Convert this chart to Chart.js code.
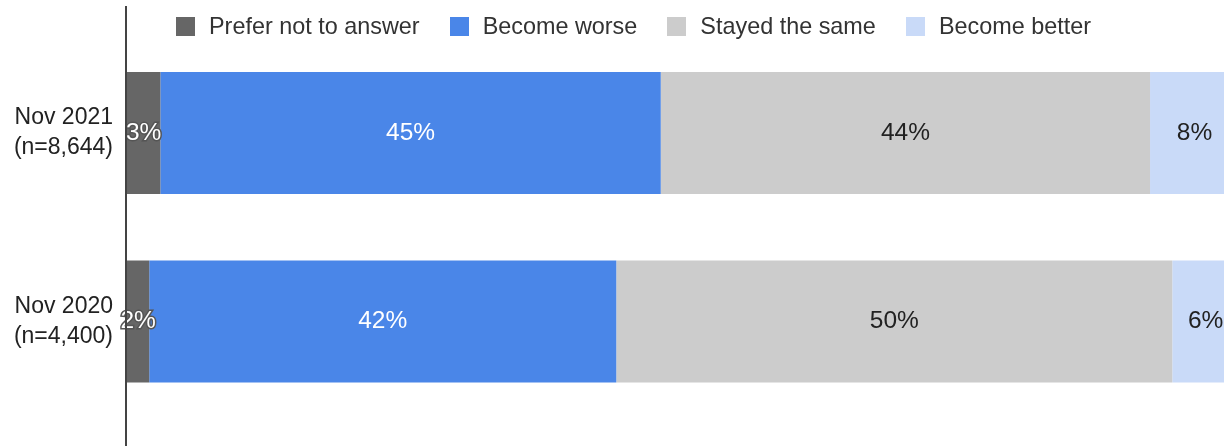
<!DOCTYPE html>
<html>
<head>
<meta charset="utf-8">
<script src="https://cdn.jsdelivr.net/npm/chart.js@4"></script>
<style>
html, body { margin: 0; padding: 0; background: #fff; overflow: hidden; }
#wrap { position: relative; width: 1240px; height: 446px; }
#legend { position: absolute; left: 176px; top: 13px; display: flex; align-items: center;
  font: 23.4px "Liberation Sans", Arial, sans-serif; line-height: 26px; color: #333; }
.item { display: flex; align-items: center; margin-right: 30px; }
.box { width: 19px; height: 19px; margin-right: 14px; }
</style>
</head>
<body>
<div id="wrap">
  <canvas id="barChart" width="1240" height="446"></canvas>
  <div id="legend"></div>
</div>
<script>
var categories = [["Nov 2021", "(n=8,644)"], ["Nov 2020", "(n=4,400)"]];
var seriesNames = ["Prefer not to answer", "Become worse", "Stayed the same", "Become better"];
var preferNot = [3, 2];
var becomeWorse = [45, 42];
var stayedSame = [44, 50];
var becomeBetter = [8, 6];

var colors = ['#666666', '#4a86e8', '#cccccc', '#c9daf8'];
var labelColors = ['#ffffff', '#ffffff', '#222222', '#222222'];
var fontFamily = '"Liberation Sans", Arial, sans-serif';

// vertical axis line running the full height
var axisLine = {
  id: 'axisLine',
  afterDraw: function(chart) {
    var ctx = chart.ctx;
    var x = chart.chartArea.left - 1;
    ctx.save();
    ctx.strokeStyle = '#444';
    ctx.lineWidth = 2;
    ctx.beginPath();
    ctx.moveTo(x, 6);
    ctx.lineTo(x, chart.height);
    ctx.stroke();
    ctx.restore();
  }
};

// percent labels in the middle of each segment
var segLabels = {
  id: 'segLabels',
  afterDatasetsDraw: function(chart) {
    var ctx = chart.ctx;
    ctx.save();
    ctx.font = '24.5px ' + fontFamily;
    ctx.textAlign = 'center';
    ctx.textBaseline = 'middle';
    chart.data.datasets.forEach(function(ds, i) {
      var meta = chart.getDatasetMeta(i);
      meta.data.forEach(function(bar, j) {
        var cx = (bar.x + bar.base) / 2;
        var txt = ds.data[j] + '%';
        if (i === 0) {
          ctx.lineWidth = 3;
          ctx.strokeStyle = '#555';
          ctx.strokeText(txt, cx, bar.y);
        }
        ctx.fillStyle = labelColors[i];
        ctx.fillText(txt, cx, bar.y);
      });
    });
    ctx.restore();
  }
};

var allSeries = [preferNot, becomeWorse, stayedSame, becomeBetter];
var datasets = seriesNames.map(function(name, i) {
  return {
    label: name,
    data: allSeries[i],
    backgroundColor: colors[i],
    borderWidth: 0,
    barPercentage: 0.647,
    categoryPercentage: 1
  };
});

var ctx = document.getElementById('barChart').getContext('2d');
var myBarChart = new Chart(ctx, {
  type: 'bar',
  data: { labels: categories, datasets: datasets },
  options: {
    indexAxis: 'y',
    responsive: false,
    animation: false,
    layout: { padding: { top: 38.75, bottom: 30.25, left: 0, right: 1 } },
    plugins: { legend: { display: false }, tooltip: { enabled: false } },
    scales: {
      x: { stacked: true, min: 0, max: 100, display: false },
      y: {
        stacked: true,
        grid: { display: false },
        border: { display: false },
        ticks: { font: { family: fontFamily, size: 23, lineHeight: 1.3 }, color: '#222', padding: 6 },
        afterFit: function(scale) {
          scale.width = 127;
          scale.paddingTop = 0;
          scale.paddingBottom = 0;
        }
      }
    }
  },
  plugins: [axisLine, segLabels]
});

// legend built from the chart's datasets
var legend = document.getElementById('legend');
myBarChart.data.datasets.forEach(function(ds) {
  var item = document.createElement('div');
  item.className = 'item';
  var box = document.createElement('span');
  box.className = 'box';
  box.style.background = ds.backgroundColor;
  var txt = document.createElement('span');
  txt.textContent = ds.label;
  item.appendChild(box);
  item.appendChild(txt);
  legend.appendChild(item);
});
</script>
</body>
</html>
